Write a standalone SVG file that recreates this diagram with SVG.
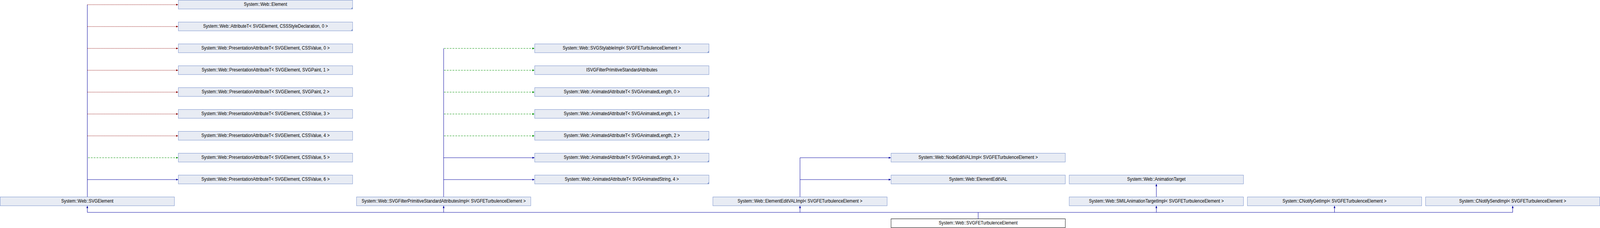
<svg xmlns="http://www.w3.org/2000/svg" width="4508" height="584" viewBox="0 0 4508 584" preserveAspectRatio="none" style="width:100vw;height:100vh;display:block">
<style>
.n rect{fill:#E8ECF4;stroke:#7B93CD;stroke-width:1}
.n text{font-family:"Liberation Sans",Arial,sans-serif;font-size:12px;fill:#000;text-anchor:middle}
.n polygon{fill:#7B93CD}
.m rect{fill:#FFFFFF;stroke:#000000;stroke-width:1}
.e path{fill:none;stroke-width:1}
.pub{stroke:#0000A0}
.pri{stroke:#8B0000;stroke-dasharray:2.3,1.3}
.pro{stroke:#009000;stroke-dasharray:5,3}
</style>
<defs>
<marker id="ab" markerUnits="userSpaceOnUse" markerWidth="7" markerHeight="6" refX="6" refY="2.5" orient="auto"><path d="M0,0 L6,2.5 L0,5 z" fill="#0000A0"/></marker>
<marker id="ar" markerUnits="userSpaceOnUse" markerWidth="7" markerHeight="6" refX="6" refY="2.5" orient="auto"><path d="M0,0 L6,2.5 L0,5 z" fill="#8B0000"/></marker>
<marker id="ag" markerUnits="userSpaceOnUse" markerWidth="7" markerHeight="6" refX="6" refY="2.5" orient="auto"><path d="M0,0 L6,2.5 L0,5 z" fill="#009000"/></marker>
</defs>

<g id="connectors" class="e">
<path class="pub" d="M246,504 V12"/>
<path class="pri" d="M246,12 H502" marker-end="url(#ar)"/>
<path class="pri" d="M246,68 H502" marker-end="url(#ar)"/>
<path class="pri" d="M246,124 H502" marker-end="url(#ar)"/>
<path class="pri" d="M246,180 H502" marker-end="url(#ar)"/>
<path class="pri" d="M246,236 H502" marker-end="url(#ar)"/>
<path class="pri" d="M246,292 H502" marker-end="url(#ar)"/>
<path class="pri" d="M246,348 H502" marker-end="url(#ar)"/>
<path class="pro" d="M248,404 H502" marker-end="url(#ag)"/>
<path class="pub" d="M246,460 H502" marker-end="url(#ab)"/>
<path class="pub" d="M1250,504 V124"/>
<path class="pro" d="M1251,124 H1506" marker-end="url(#ag)"/>
<path class="pro" d="M1251,180 H1506" marker-end="url(#ag)"/>
<path class="pro" d="M1251,236 H1506" marker-end="url(#ag)"/>
<path class="pro" d="M1251,292 H1506" marker-end="url(#ag)"/>
<path class="pro" d="M1251,348 H1506" marker-end="url(#ag)"/>
<path class="pub" d="M1250,404 H1506" marker-end="url(#ab)"/>
<path class="pub" d="M1250,460 H1506" marker-end="url(#ab)"/>
<path class="pub" d="M2254,504 V404 H2510" marker-end="url(#ab)"/>
<path class="pub" d="M2254,460 H2510" marker-end="url(#ab)"/>
<path class="pub" d="M3258,504 V471" marker-end="url(#ab)"/>
<path class="pub" d="M2756,560 V544"/>
<path class="pub" d="M246,544 H4262"/>
<path class="pub" d="M246,544 V527" marker-end="url(#ab)"/>
<path class="pub" d="M1250,544 V527" marker-end="url(#ab)"/>
<path class="pub" d="M2254,544 V527" marker-end="url(#ab)"/>
<path class="pub" d="M3258,544 V527" marker-end="url(#ab)"/>
<path class="pub" d="M3760,544 V527" marker-end="url(#ab)"/>
<path class="pub" d="M4262,544 V527" marker-end="url(#ab)"/>
</g>

<g id="n_svgelement" class="n"><rect x="0.5" y="504.5" width="491" height="22.5"/><text x="246" y="519.5">System::Web::SVGElement</text></g>

<g id="n_element" class="n"><rect x="502.5" y="0.5" width="491" height="22.5"/><polygon points="993.5,18 993.5,23 988.5,23"/><text x="748" y="15.5">System::Web::Element</text></g>
<g id="n_attr_css" class="n"><rect x="502.5" y="56.5" width="491" height="22.5"/><polygon points="993.5,74 993.5,79 988.5,79"/><text x="748" y="71.5">System::Web::AttributeT&lt; SVGElement, CSSStyleDeclaration, 0 &gt;</text></g>
<g id="n_pa0" class="n"><rect x="502.5" y="112.5" width="491" height="22.5"/><text x="748" y="127.5">System::Web::PresentationAttributeT&lt; SVGElement, CSSValue, 0 &gt;</text></g>
<g id="n_pa1" class="n"><rect x="502.5" y="168.5" width="491" height="22.5"/><text x="748" y="183.5">System::Web::PresentationAttributeT&lt; SVGElement, SVGPaint, 1 &gt;</text></g>
<g id="n_pa2" class="n"><rect x="502.5" y="224.5" width="491" height="22.5"/><text x="748" y="239.5">System::Web::PresentationAttributeT&lt; SVGElement, SVGPaint, 2 &gt;</text></g>
<g id="n_pa3" class="n"><rect x="502.5" y="280.5" width="491" height="22.5"/><text x="748" y="295.5">System::Web::PresentationAttributeT&lt; SVGElement, CSSValue, 3 &gt;</text></g>
<g id="n_pa4" class="n"><rect x="502.5" y="336.5" width="491" height="22.5"/><text x="748" y="351.5">System::Web::PresentationAttributeT&lt; SVGElement, CSSValue, 4 &gt;</text></g>
<g id="n_pa5" class="n"><rect x="502.5" y="392.5" width="491" height="22.5"/><text x="748" y="407.5">System::Web::PresentationAttributeT&lt; SVGElement, CSSValue, 5 &gt;</text></g>
<g id="n_pa6" class="n"><rect x="502.5" y="448.5" width="491" height="22.5"/><text x="748" y="463.5">System::Web::PresentationAttributeT&lt; SVGElement, CSSValue, 6 &gt;</text></g>

<g id="n_fpsa_impl" class="n"><rect x="1004.5" y="504.5" width="491" height="22.5"/><text x="1250" y="519.5">System::Web::SVGFilterPrimitiveStandardAttributesImpl&lt; SVGFETurbulenceElement &gt;</text></g>

<g id="n_stylable" class="n"><rect x="1506.5" y="112.5" width="491" height="22.5"/><polygon points="1997.5,130 1997.5,135 1992.5,135"/><text x="1752" y="127.5">System::Web::SVGStylableImpl&lt; SVGFETurbulenceElement &gt;</text></g>
<g id="n_isvgfpsa" class="n"><rect x="1506.5" y="168.5" width="491" height="22.5"/><text x="1752" y="183.5">ISVGFilterPrimitiveStandardAttributes</text></g>
<g id="n_aa0" class="n"><rect x="1506.5" y="224.5" width="491" height="22.5"/><polygon points="1997.5,242 1997.5,247 1992.5,247"/><text x="1752" y="239.5">System::Web::AnimatedAttributeT&lt; SVGAnimatedLength, 0 &gt;</text></g>
<g id="n_aa1" class="n"><rect x="1506.5" y="280.5" width="491" height="22.5"/><polygon points="1997.5,298 1997.5,303 1992.5,303"/><text x="1752" y="295.5">System::Web::AnimatedAttributeT&lt; SVGAnimatedLength, 1 &gt;</text></g>
<g id="n_aa2" class="n"><rect x="1506.5" y="336.5" width="491" height="22.5"/><polygon points="1997.5,354 1997.5,359 1992.5,359"/><text x="1752" y="351.5">System::Web::AnimatedAttributeT&lt; SVGAnimatedLength, 2 &gt;</text></g>
<g id="n_aa3" class="n"><rect x="1506.5" y="392.5" width="491" height="22.5"/><polygon points="1997.5,410 1997.5,415 1992.5,415"/><text x="1752" y="407.5">System::Web::AnimatedAttributeT&lt; SVGAnimatedLength, 3 &gt;</text></g>
<g id="n_aa4" class="n"><rect x="1506.5" y="448.5" width="491" height="22.5"/><polygon points="1997.5,466 1997.5,471 1992.5,471"/><text x="1752" y="463.5">System::Web::AnimatedAttributeT&lt; SVGAnimatedString, 4 &gt;</text></g>

<g id="n_eeval_impl" class="n"><rect x="2008.5" y="504.5" width="491" height="22.5"/><text x="2254" y="519.5">System::Web::ElementEditVALImpl&lt; SVGFETurbulenceElement &gt;</text></g>

<g id="n_neval_impl" class="n"><rect x="2510.5" y="392.5" width="491" height="22.5"/><text x="2756" y="407.5">System::Web::NodeEditVALImpl&lt; SVGFETurbulenceElement &gt;</text></g>
<g id="n_eeval" class="n"><rect x="2510.5" y="448.5" width="491" height="22.5"/><text x="2756" y="463.5">System::Web::ElementEditVAL</text></g>
<g id="n_turbulence" class="n m"><rect x="2510.5" y="560.5" width="491" height="22.5"/><text x="2756" y="575.5">System::Web::SVGFETurbulenceElement</text></g>

<g id="n_animtarget" class="n"><rect x="3012.5" y="448.5" width="491" height="22.5"/><text x="3258" y="463.5">System::Web::AnimationTarget</text></g>
<g id="n_smil" class="n"><rect x="3012.5" y="504.5" width="491" height="22.5"/><text x="3258" y="519.5">System::Web::SMILAnimationTargetImpl&lt; SVGFETurbulenceElement &gt;</text></g>
<g id="n_notifyget" class="n"><rect x="3514.5" y="504.5" width="491" height="22.5"/><text x="3760" y="519.5">System::CNotifyGetImpl&lt; SVGFETurbulenceElement &gt;</text></g>
<g id="n_notifysend" class="n"><rect x="4016.5" y="504.5" width="491" height="22.5"/><text x="4262" y="519.5">System::CNotifySendImpl&lt; SVGFETurbulenceElement &gt;</text></g>
</svg>
